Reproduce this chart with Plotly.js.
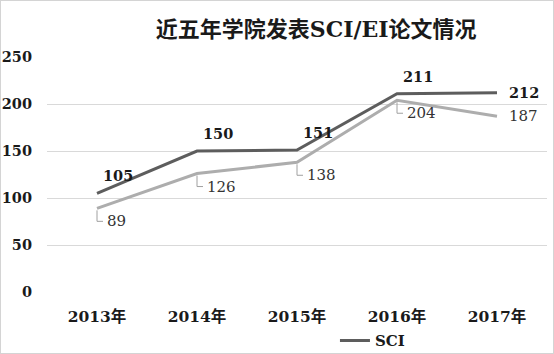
<!DOCTYPE html>
<html><head><meta charset="utf-8">
<script src="https://cdn.plot.ly/plotly-3.0.1.min.js"></script>
<style>html,body{margin:0;padding:0;background:#fff}#wrap{width:554px;height:354px;box-sizing:border-box;border:1px solid #d4d4d4;overflow:hidden}#chart{width:552px;height:352px}</style>
</head><body><div id="wrap"><div id="chart"></div></div>
<script>
const categories = ['2013年','2014年','2015年','2016年','2017年'];
const sciValues = [105,150,151,211,212];
const eiValues = [89,126,138,204,187];
const yTicks = [0,50,100,150,200,250];

const SERIF = '"DejaVu Serif","Noto Sans CJK SC",serif';
const sciColor = '#5d5d5d', eiColor = '#adadad';

const traces = [
  {x: categories, y: sciValues, name: 'SCI', type: 'scatter', mode: 'lines',
   line: {color: sciColor, width: 3}, showlegend: true},
  {x: categories, y: eiValues, name: 'EI', type: 'scatter', mode: 'lines',
   line: {color: eiColor, width: 3}, showlegend: false}
];

const annotations = [];
const shapes = [];
sciValues.forEach((v, i) => {
  const last = i === categories.length - 1;
  annotations.push({x: categories[i], y: v, xref: 'x', yref: 'y', text: '<b>' + v + '</b>',
    showarrow: false, xanchor: last ? 'left' : 'center', yanchor: last ? 'middle' : 'bottom',
    xshift: last ? 10 : 21, yshift: last ? 0 : 7,
    font: {family: SERIF, size: 14.5, color: '#1a1a1a'}});
});
eiValues.forEach((v, i) => {
  const last = i === categories.length - 1;
  if (last) {
    annotations.push({x: categories[i], y: v, xref: 'x', yref: 'y', text: String(v),
      showarrow: false, xanchor: 'left', yanchor: 'middle', xshift: 10, yshift: 0,
      font: {family: SERIF, size: 15, color: '#333'}});
  } else {
    annotations.push({x: categories[i], y: v, xref: 'x', yref: 'y', text: String(v),
      showarrow: false, xanchor: 'left', yanchor: 'middle', xshift: 8, yshift: -13,
      font: {family: SERIF, size: 15, color: '#333'}});
    shapes.push({type: 'path', xref: 'x', yref: 'y', xsizemode: 'pixel', ysizemode: 'pixel',
      xanchor: categories[i], yanchor: v, path: 'M0,-2 L0,-13 L6,-13',
      line: {color: '#a0a0a0', width: 1}});
  }
});

const layout = {
  width: 552, height: 352,
  margin: {l: 46, r: 6, t: 56, b: 61},
  paper_bgcolor: '#fff', plot_bgcolor: '#fff',
  title: {text: '<b>近五年学院发表SCI/EI论文情况</b>', x: 0.571, xanchor: 'center', y: 0.92, yanchor: 'middle',
    font: {family: SERIF, size: 22, color: '#1a1a1a'}},
  xaxis: {type: 'category', range: [-0.5, 4.5], showgrid: false, zeroline: false, showline: false,
    ticks: '', ticklabelstandoff: 13,
    tickfont: {family: SERIF, size: 15.5, color: '#1a1a1a', weight: 'bold'}},
  yaxis: {range: [0, 250], tickvals: yTicks, showgrid: true, gridcolor: '#d9d9d9', gridwidth: 1,
    zeroline: false, showline: false, ticks: '', ticklabelstandoff: 14,
    tickfont: {family: SERIF, size: 14.5, color: '#1a1a1a', weight: 'bold'}},
  showlegend: true,
  legend: {orientation: 'h', xref: 'container', yref: 'container', x: 0.605, xanchor: 'left', y: 0.035, yanchor: 'middle',
    font: {family: SERIF, size: 15, color: '#1a1a1a', weight: 'bold'}, bgcolor: 'rgba(0,0,0,0)'},
  annotations: annotations,
  shapes: shapes
};
Plotly.newPlot('chart', traces, layout, {displayModeBar: false, staticPlot: true});
</script></body></html>
